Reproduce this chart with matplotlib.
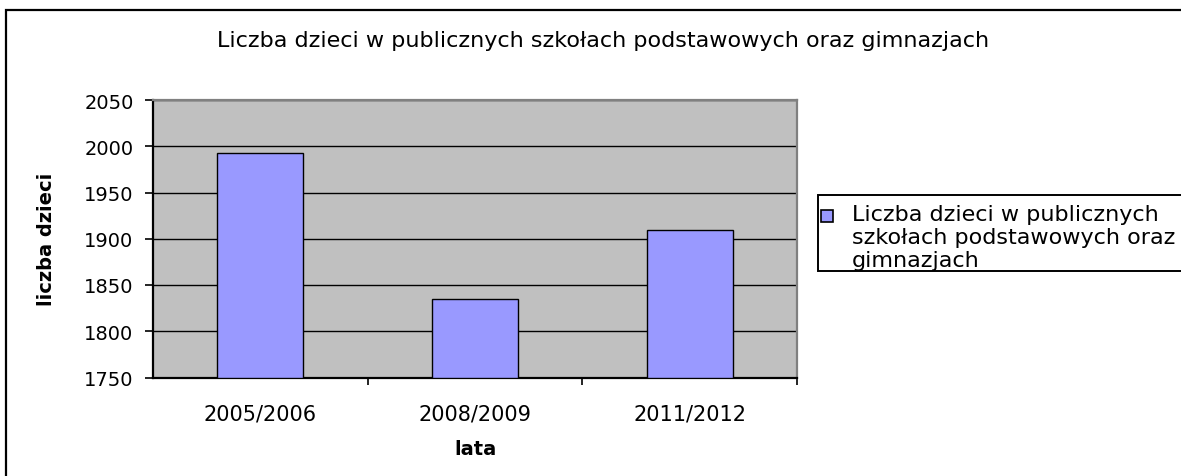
import matplotlib
matplotlib.use("Agg")
import matplotlib.pyplot as plt
from matplotlib.patches import Rectangle

categories = ["2005/2006", "2008/2009", "2011/2012"]
values = [1993, 1835, 1909]
series_name = "Liczba dzieci w publicznych\nszkołach podstawowych oraz\ngimnazjach"
title = "Liczba dzieci w publicznych szkołach podstawowych oraz gimnazjach"
yticks = [1750, 1800, 1850, 1900, 1950, 2000, 2050]

plt.rcParams['font.family'] = ['DejaVu Sans']

W, H = 1181, 477
BAR = "#9999FF"
fig = plt.figure(figsize=(W/100, H/100), dpi=100)
fig.patch.set_facecolor("white")

def fx(px):
    return px / W

def fy(py):
    return 1 - py / H

# outer chart frame
fig.patches.append(Rectangle((fx(6), -0.1), 1.2, fy(11) + 0.1, transform=fig.transFigure,
                             fill=False, edgecolor="black", linewidth=1.6))

ax = fig.add_axes([fx(153), fy(378.5), fx(797 - 153), (378.5 - 101) / H])
ax.set_facecolor("#C0C0C0")
x = list(range(len(categories)))
ax.bar(x, [v - 1750 for v in values], bottom=1750, width=0.4,
       color=BAR, edgecolor="black", linewidth=1.0, zorder=3)

ax.set_xlim(-0.5, 2.5)
ax.set_ylim(1750, 2050)
ax.set_yticks(yticks)
ax.tick_params(axis='y', labelsize=14, length=6, width=1.2, direction='out', pad=8)
ax.yaxis.grid(True, color="black", linewidth=1.0, zorder=1)
ax.set_axisbelow(True)

ax.set_xticks(x)
ax.set_xticklabels(categories)
ax.tick_params(axis='x', which='major', length=0, labelsize=15, pad=19)
ax.set_xticks([0.5, 1.5, 2.5], minor=True)
ax.tick_params(axis='x', which='minor', length=5, width=1.2, direction='out')

for s in ["left", "bottom"]:
    ax.spines[s].set_color("black")
    ax.spines[s].set_linewidth(1.6)
for s in ["top", "right"]:
    ax.spines[s].set_color("#808080")
    ax.spines[s].set_linewidth(1.6)

ax.set_ylabel("liczba dzieci", fontsize=14, fontweight="bold", labelpad=20)
ax.set_xlabel("lata", fontsize=14, fontweight="bold", labelpad=11)

fig.text(fx(603.5), fy(47), title, ha="center", va="baseline", fontsize=16)

# legend (Excel style: key aligned with first line)
fig.patches.append(Rectangle((fx(818), fy(272)), 1.0, (272 - 196) / H,
                             transform=fig.transFigure, fill=True, facecolor="white",
                             edgecolor="black", linewidth=1.4))
fig.patches.append(Rectangle((fx(821), fy(223)), fx(12), 12 / H,
                             transform=fig.transFigure, facecolor=BAR,
                             edgecolor="black", linewidth=1.2))
for i, line in enumerate(series_name.split("\n")):
    fig.text(fx(852), fy(221 + 23 * i), line, ha="left", va="baseline", fontsize=16)

fig.savefig("out.png", dpi=100)
